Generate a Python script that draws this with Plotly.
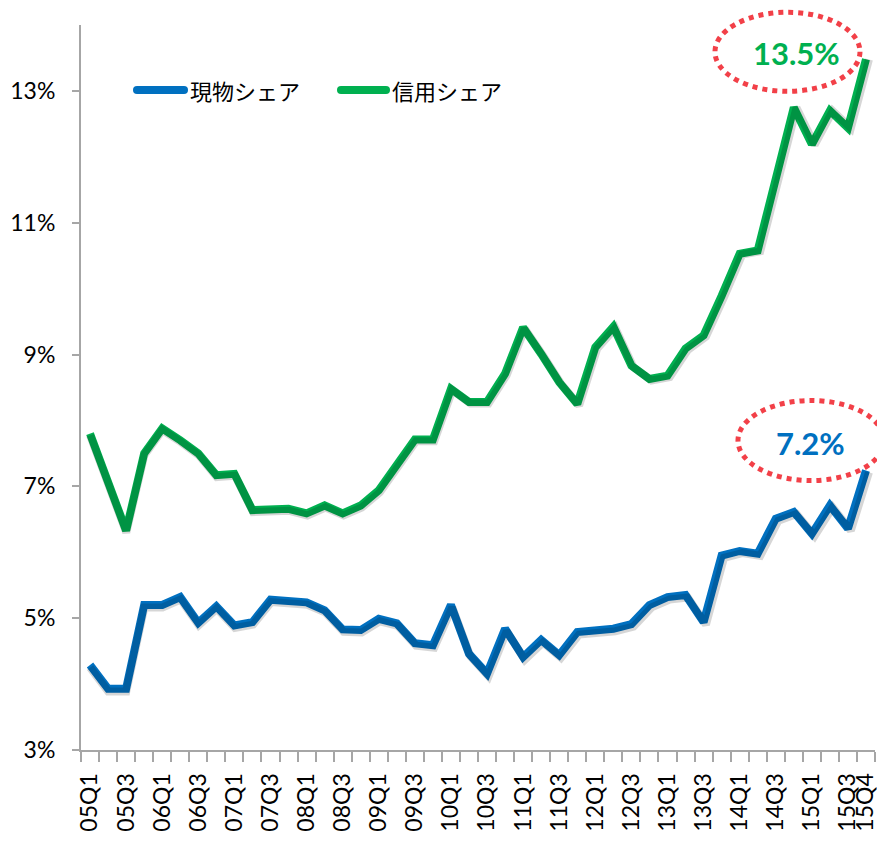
import plotly.graph_objects as go

quarters = [f"{y:02d}Q{q}" for y in range(5, 16) for q in range(1, 5)]
genbutsu = [4.29, 3.93, 3.93, 5.20, 5.20, 5.32, 4.93, 5.18, 4.89, 4.94,
            5.28, 5.25, 5.24, 5.12, 4.83, 4.82, 4.99, 4.92, 4.62, 4.59,
            5.20, 4.46, 4.16, 4.84, 4.41, 4.67, 4.44, 4.79, 4.82, 4.84,
            4.91, 5.20, 5.32, 5.35, 4.94, 5.95, 6.02, 5.98, 6.51, 6.61,
            6.28, 6.71, 6.36, 7.24]
shinyo = [7.80, 7.07, 6.33, 7.50, 7.88, 7.70, 7.50, 7.17, 7.19, 6.64,
          6.66, 6.66, 6.59, 6.71, 6.59, 6.71, 6.94, 7.32, 7.71, 7.71,
          8.48, 8.28, 8.28, 8.71, 9.41, 9.01, 8.58, 8.25, 9.11, 9.42,
          8.83, 8.63, 8.68, 9.09, 9.29, 9.89, 10.53, 10.58, 11.67, 12.75,
          12.19, 12.70, 12.44, 13.48]
names = ["現物シェア", "信用シェア"]
colors = ["#0070C0", "#00B050"]
y_ticks = [3, 5, 7, 9, 11, 13]
y_range = [3, 14]

n = len(quarters)
xi = list(range(n))
label_idx = list(range(0, n, 2)) + [n - 1]

OFF = 8  # page body margin
W, H = 885 - 2 * OFF, 841 - 2 * OFF
L, T = 81 - OFF, 25 - OFF
R = W - (875 - OFF)
B = H - (750 - OFF)
pw, ph = W - L - R, H - T - B
x_range = [-0.5, n - 0.5]
px_per_x = pw / n
px_per_y = ph / (y_range[1] - y_range[0])
sh = 3  # shadow offset px

def paper_x(px):  # px in page coordinates
    return (px - OFF - L) / pw
def paper_y(py):
    return (H - B - (py - OFF)) / ph

fig = go.Figure()

# shadows (same data drawn on shifted overlay axes)
for ys in (genbutsu, shinyo):
    fig.add_trace(go.Scatter(x=xi, y=ys, mode="lines", xaxis="x2", yaxis="y2",
                             line=dict(color="rgba(0,0,0,0.16)", width=8),
                             showlegend=False, hoverinfo="skip"))

for ys, nm, c in zip((genbutsu, shinyo), names, colors):
    fig.add_trace(go.Scatter(x=xi, y=ys, mode="lines", name=nm,
                             line=dict(color=c, width=8), showlegend=False))

axis_col = "#A6A6A6"
fig.update_layout(
    width=W, height=H,
    margin=dict(l=L, r=R, t=T, b=B),
    plot_bgcolor="white", paper_bgcolor="white",
    font=dict(family="Lato", color="black"),
    showlegend=False,
    xaxis=dict(range=x_range, tickmode="array", tickvals=label_idx,
               ticktext=[quarters[i] for i in label_idx], tickangle=-90,
               ticks="outside", ticklen=10, tickcolor="rgba(0,0,0,0)",
               ticklabelstandoff=2, automargin=False, ticklabeloverflow="allow",
               minor=dict(tickmode="array", tickvals=[i - 0.5 for i in range(n + 1)],
                          ticks="outside", ticklen=10, tickcolor=axis_col, tickwidth=2),
               showline=True, linecolor=axis_col, linewidth=2,
               showgrid=False, zeroline=False,
               tickfont=dict(size=23, family="Lato")),
    yaxis=dict(range=y_range, tickmode="array", tickvals=y_ticks,
               ticktext=[f"{v}%" for v in y_ticks],
               ticks="outside", ticklen=7, tickcolor=axis_col, tickwidth=2,
               ticklabelstandoff=12, automargin=False,
               showline=True, linecolor=axis_col, linewidth=2,
               showgrid=False, zeroline=False,
               tickfont=dict(size=23, family="Lato")),
    xaxis2=dict(overlaying="x", domain=[sh / pw, 1],
                range=[x_range[0], x_range[1] - sh / px_per_x],
                visible=False, anchor="y2"),
    yaxis2=dict(overlaying="y", domain=[0, 1 - sh / ph],
                range=[y_range[0] + sh / px_per_y, y_range[1]],
                visible=False, anchor="x2"),
)

# legend drawn as shapes + text (page pixel positions)
legend_items = [(names[0], colors[0], 137, 184), (names[1], colors[1], 341, 386)]
leg_y = 90
for nm, c, x0, x1 in legend_items:
    fig.add_shape(type="line", xref="paper", yref="paper",
                  x0=paper_x(x0), x1=paper_x(x1), y0=paper_y(leg_y), y1=paper_y(leg_y),
                  line=dict(color=c, width=8))
    for xe in (x0, x1):
        fig.add_shape(type="circle", xref="paper", yref="paper",
                      xsizemode="pixel", ysizemode="pixel",
                      xanchor=paper_x(xe), yanchor=paper_y(leg_y),
                      x0=-4, x1=4, y0=-4, y1=4,
                      fillcolor=c, line=dict(width=0))
    fig.add_annotation(x=paper_x(x1 + 4), y=paper_y(leg_y), xref="paper", yref="paper",
                       text=nm, showarrow=False, xanchor="left", yanchor="middle",
                       font=dict(size=22, family="Noto Sans CJK JP", color="black"))

# callouts for the latest values
last = n - 1
def xp(i):
    return (i - x_range[0]) / (x_range[1] - x_range[0])
def yp(v):
    return (v - y_range[0]) / (y_range[1] - y_range[0])

callouts = [
    (shinyo, colors[1], -69, 6, (-151, -6, -32, 47)),
    (genbutsu, colors[0], -55, 28, (-128, 18, -10, 70)),
]
for ys, c, dx, dy, (ex0, ex1, ey0, ey1) in callouts:
    v = ys[last]
    fig.add_annotation(x=last, y=v, xref="x", yref="y", text=f"<b>{v:.1f}%</b>",
                       showarrow=False, xshift=dx, yshift=dy,
                       font=dict(size=31, color=c, family="Lato"))
    fig.add_shape(type="circle", xref="paper", yref="paper",
                  xsizemode="pixel", ysizemode="pixel",
                  xanchor=xp(last), yanchor=yp(v),
                  x0=ex0, x1=ex1, y0=ey0, y1=ey1,
                  line=dict(color="rgba(240,30,40,0.85)", width=5, dash="5px,5px"))

fig.write_html("out.html")
